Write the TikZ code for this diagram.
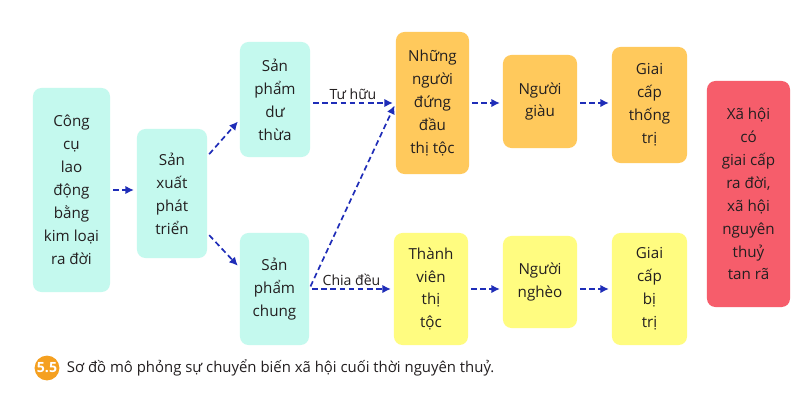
\documentclass[tikz,border=0pt]{standalone}
\usepackage{fontspec}
\setmainfont{Open Sans}
\usetikzlibrary{arrows.meta,positioning,calc}
\definecolor{Mint}{HTML}{C4F9EE}
\definecolor{Amber}{HTML}{FFC95C}
\definecolor{Lemon}{HTML}{FFFC80}
\definecolor{Coral}{HTML}{F65D6B}
\definecolor{FlowBlue}{HTML}{1F2DB8}
\definecolor{BadgeOrange}{HTML}{F5A020}
\definecolor{TextDark}{HTML}{231F20}

\begin{document}
\begin{tikzpicture}[x=0.025cm,y=-0.025cm,font=\fontsize{10.8}{16.3}\selectfont,text=TextDark,box/.style={rounded corners=6pt,align=center,inner sep=0pt},flow/.style={-{Latex[length=6pt,width=6pt]},draw=FlowBlue,line width=1.2pt,dash pattern=on 4pt off 2.5pt,shorten <=2pt,shorten >=2pt},lbl/.style={font=\fontsize{10}{11}\selectfont,above,inner sep=2pt}]
\useasboundingbox[fill=white] (0,0) rectangle (809,402);
\node[box,fill=Mint,minimum width=1.925cm,minimum height=5.1cm] (cong) at (71.5,190){Công\\cụ\\lao\\động\\bằng\\kim loại\\ra đời};
\node[box,fill=Mint,minimum width=1.75cm,minimum height=3.225cm] (sanxuat) at (172,193.5){Sản\\xuất\\phát\\triển};
\node[box,fill=Mint,minimum width=1.75cm,minimum height=2.875cm] (duthua) at (275,99.5){Sản\\phẩm\\dư\\thừa};
\node[box,fill=Mint,minimum width=1.725cm,minimum height=2.8cm] (chung) at (274.5,289){Sản\\phẩm\\chung};
\node[box,fill=Amber,minimum width=1.825cm,minimum height=3.55cm] (daututoc) at (432.5,103){Những\\người\\đứng\\đầu\\thị tộc};
\node[box,fill=Amber,minimum width=1.85cm,minimum height=2.325cm] (giau) at (540,101.5){Người\\giàu};
\node[box,fill=Amber,minimum width=1.875cm,minimum height=2.9cm] (thongtri) at (649.5,105){Giai\\cấp\\thống\\trị};
\node[box,fill=Lemon,minimum width=1.85cm,minimum height=2.8cm] (thanhvien) at (431,289){Thành\\viên\\thị\\tộc};
\node[box,fill=Lemon,minimum width=1.85cm,minimum height=2.3cm] (ngheo) at (540,282){Người\\nghèo};
\node[box,fill=Lemon,minimum width=1.875cm,minimum height=2.8cm] (bitri) at (649.5,289){Giai\\cấp\\bị\\trị};
\node[box,fill=Coral,minimum width=2.075cm,minimum height=5.65cm] (xahoi) at (748.5,194){Xã hội\\có\\giai cấp\\ra đời,\\xã hội\\nguyên\\thuỷ\\tan rã};
% connectors
\draw[flow] (cong.east) -- (cong.east -| sanxuat.west);
\draw[flow] ([yshift=0.93cm]sanxuat.east) -- ([yshift=-0.5cm]duthua.west);
\draw[flow] ([yshift=-0.99cm]sanxuat.east) -- ([yshift=0.53cm]chung.west);
\draw[flow] (duthua.east |- daututoc.west) -- node[lbl] (tuhuu) {Tư hữu} (daututoc.west);
\draw[flow] (chung.east) -- (daututoc.west);
\draw[flow] (chung.east) -- node[lbl] (chiadeu) {Chia đều} (thanhvien.west);
\draw[flow] (daututoc.east) -- (daututoc.east -| giau.west);
\draw[flow] (daututoc.east -| giau.east) -- (daututoc.east -| thongtri.west);
\draw[flow] (thanhvien.east) -- (thanhvien.east -| ngheo.west);
\draw[flow] (thanhvien.east -| ngheo.east) -- (thanhvien.east -| bitri.west);
% caption
\node[circle,fill=BadgeOrange,text=white,font=\bfseries\fontsize{10}{11}\selectfont,inner sep=0pt,minimum size=0.62cm] (badge) at (47,368){5.5};
\node[anchor=west,font=\fontsize{10.6}{12}\selectfont] (caption) at (62,368){Sơ đồ mô phỏng sự chuyển biến xã hội cuối thời nguyên thuỷ.};
\end{tikzpicture}
\end{document}
